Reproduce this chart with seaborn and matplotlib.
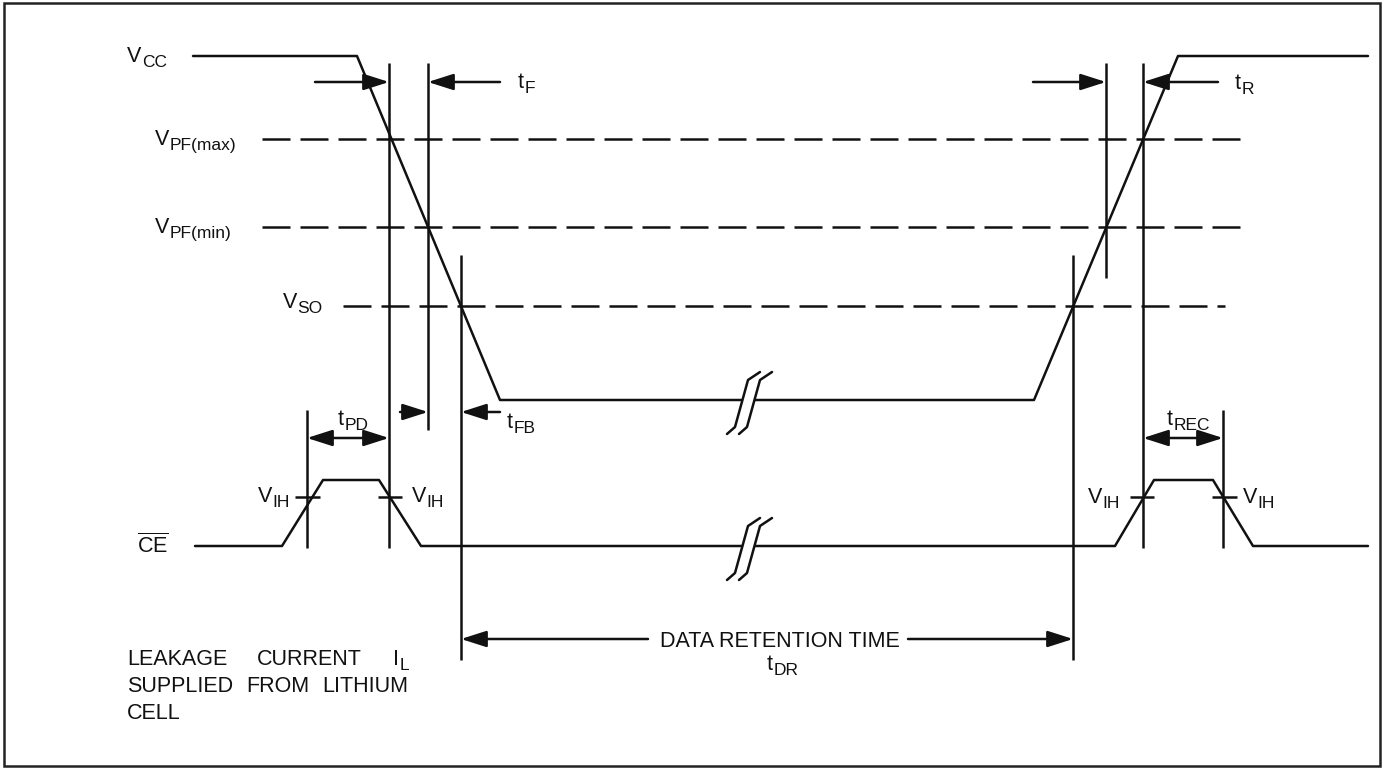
import matplotlib
matplotlib.use("Agg")
import matplotlib.pyplot as plt
from matplotlib.patches import Rectangle
import seaborn as sns

# ---- diagram data (pixel coords, y grows downwards) ----
VCC_LEFT_X = [193, 357, 500, 742]
VCC_LEFT_Y = [56, 56, 400, 400]
VCC_RIGHT_X = [755, 1034, 1178, 1368]
VCC_RIGHT_Y = [400, 400, 56, 56]

CE_LEFT_X = [195, 282, 323, 379, 421, 742]
CE_LEFT_Y = [546, 546, 480, 480, 546, 546]
CE_RIGHT_X = [755, 1115, 1154, 1213, 1253, 1368]
CE_RIGHT_Y = [546, 546, 480, 480, 546, 546]

# "//" break symbol on the long low stretches
BREAK_X = [727, 735, 748, 760]
BREAK_DY = [34, 27, -20, -28]
BREAK_GAP = 12
BREAK_LEVELS = [400, 546]

# dashed threshold levels
LEVEL_Y = [139, 227, 306]
LEVEL_X0 = [262, 262, 343]
LEVEL_X1 = [1245, 1245, 1225]

# vertical timing markers
MARK_X = [307, 389, 428, 461, 1073, 1106, 1143, 1223]
MARK_TOP = [410, 63, 63, 255, 255, 63, 63, 410]
MARK_BOT = [548, 548, 430, 660, 660, 278, 548, 548]

# V_IH tick marks on CE edges
VIH_Y = 497
VIH_X0 = [295, 378, 1130, 1212]
VIH_X1 = [320, 402, 1154, 1237]

# one-sided arrows
ARROW_TAIL = [315, 500, 1033, 1218, 400, 500, 648, 908]
ARROW_TIP = [389, 428, 1106, 1143, 428, 461, 461, 1073]
ARROW_Y = [82, 82, 82, 82, 412, 412, 639, 639]

# two-sided spans (tPD, tREC)
SPAN_X0 = [307, 1143]
SPAN_X1 = [389, 1223]
SPAN_Y = [438, 438]

# labels with subscripts: main, sub, x, baseline
LABELS = [
    ("V", "CC", 127, 62), ("V", "PF(max)", 155, 145), ("V", "PF(min)", 155, 233),
    ("V", "SO", 283, 308), ("t", "F", 518, 88), ("t", "R", 1235, 89),
    ("t", "PD", 338, 425), ("t", "FB", 507, 428), ("t", "REC", 1167, 425),
    ("V", "IH", 258, 502), ("V", "IH", 412, 502), ("V", "IH", 1088, 503),
    ("V", "IH", 1243, 503), ("t", "DR", 767, 670), ("I", "L", 393, 665),
]

NOTE_WORDS = ["LEAKAGE", "CURRENT", "SUPPLIED", "FROM", "LITHIUM", "CELL"]
NOTE_X = [127, 257, 127, 278, 408, 127]
NOTE_Y = [665, 665, 692, 692, 692, 719]
NOTE_HA = ["left", "left", "left", "center", "right", "left"]

BORDER = (4, 3, 1376, 763)

# ---- style ----
sns.set_theme(style="white")
plt.rcParams["font.family"] = ["Liberation Sans", "DejaVu Sans"]
plt.rcParams["mathtext.fontset"] = "custom"
plt.rcParams["mathtext.rm"] = "Liberation Sans"
plt.rcParams["mathtext.it"] = "Liberation Sans"
plt.rcParams["mathtext.bf"] = "Liberation Sans:bold"

LW = 1.8
INK = "#111111"
FS = 15.5
SUB_FS = 12.5

fig = plt.figure(figsize=(13.85, 7.68), dpi=100)
ax = fig.add_axes([0, 0, 1, 1])

# waveforms
for xs, ys in [(VCC_LEFT_X, VCC_LEFT_Y), (VCC_RIGHT_X, VCC_RIGHT_Y),
               (CE_LEFT_X, CE_LEFT_Y), (CE_RIGHT_X, CE_RIGHT_Y)]:
    sns.lineplot(x=xs, y=ys, sort=False, estimator=None, color=INK, linewidth=LW, ax=ax)

# break marks
for lvl in BREAK_LEVELS:
    for off in (0, BREAK_GAP):
        ax.plot([x + off for x in BREAK_X], [lvl + d for d in BREAK_DY],
                color=INK, lw=LW, solid_capstyle="round", solid_joinstyle="round")

# dashed levels
ax.hlines(LEVEL_Y, LEVEL_X0, LEVEL_X1, colors=INK, lw=LW, linestyles=(0, (11.2, 4.0)))

# verticals and V_IH ticks
ax.vlines(MARK_X, MARK_TOP, MARK_BOT, colors=INK, lw=LW)
ax.hlines([VIH_Y] * len(VIH_X0), VIH_X0, VIH_X1, colors=INK, lw=LW)

head = ",head_length=1.0,head_width=0.32"
for x0, x1, y in zip(ARROW_TAIL, ARROW_TIP, ARROW_Y):
    ax.annotate("", xy=(x1, y), xytext=(x0, y),
                arrowprops=dict(arrowstyle="-|>" + head, mutation_scale=15.5, lw=LW,
                                color=INK, shrinkA=0, shrinkB=0))
for x0, x1, y in zip(SPAN_X0, SPAN_X1, SPAN_Y):
    ax.annotate("", xy=(x1, y), xytext=(x0, y),
                arrowprops=dict(arrowstyle="<|-|>" + head, mutation_scale=15.5, lw=LW,
                                color=INK, shrinkA=0, shrinkB=0))


def sub_label(main, sub, x, yb):
    t = ax.text(x, yb, main, fontsize=FS, va="baseline", ha="left", color=INK)
    ax.annotate(sub, xy=(1.0, yb), xycoords=(t, "data"), xytext=(0.2, -3.6),
                textcoords="offset points", fontsize=SUB_FS, va="baseline",
                ha="left", color=INK)


for main, sub, x, yb in LABELS:
    sub_label(main, sub, x, yb)

ax.text(137, 553, r"$\overline{\mathrm{CE}}$", fontsize=FS, va="baseline", ha="left", color=INK)
ax.text(780, 647, "DATA RETENTION TIME", fontsize=FS, va="baseline", ha="center", color=INK)

for w, x, y, ha in zip(NOTE_WORDS, NOTE_X, NOTE_Y, NOTE_HA):
    ax.text(x, y, w, fontsize=FS, va="baseline", ha=ha, color=INK)

ax.add_patch(Rectangle(BORDER[:2], BORDER[2], BORDER[3], fill=False, lw=1.8, ec="#222222"))

ax.set_xlim(0, 1385)
ax.set_ylim(768, 0)
ax.axis("off")
fig.savefig("out.png", dpi=100, facecolor="white")
